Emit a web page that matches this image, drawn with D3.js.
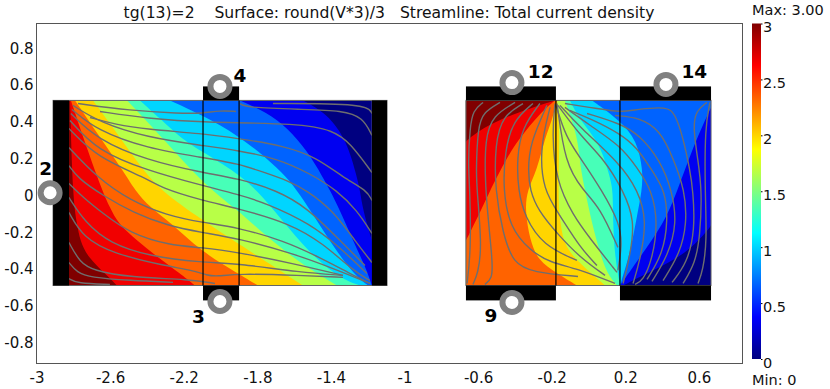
<!DOCTYPE html>
<html>
<head>
<meta charset="utf-8">
<script src="https://cdn.jsdelivr.net/npm/d3@7"></script>
<style>
  html, body { margin: 0; padding: 0; background: #fff; }
  svg { display: block; }
  text { font-family: "DejaVu Sans", sans-serif; fill: #111; }
</style>
</head>
<body>
<svg id="chart" width="830" height="389"></svg>
<script>
// tick labels
const xTicks = [-3, -2.6, -2.2, -1.8, -1.4, -1, -0.6, -0.2, 0.2, 0.6];
const yTicks = [0.8, 0.6, 0.4, 0.2, 0, -0.2, -0.4, -0.6, -0.8];
const barTicks = [0, 0.5, 1, 1.5, 2, 2.5, 3];

// round(V*3)/3 levels and jet colormap
const levels = [0, 0.3333, 0.6667, 1, 1.3333, 1.6667, 2, 2.3333, 2.6667, 3];
const jetStops = [0, 0.375, 1.125, 1.875, 2.625, 3];
const jetColors = ["#000080", "#0000ff", "#00ffff", "#ffff00", "#ff0000", "#800000"];

// band edges, [x, y]. everything left of edge i has at least levels[i + 1]
const leftEdges = [
  [[-1.552, .503], [-1.421, .432], [-1.313, .285], [-1.258, .084], [-1.242, .014], [-1.226, -.095], [-1.177, -.258], [-1.106, -.503]],
  [[-1.894, .503], [-1.747, .438], [-1.639, .356], [-1.530, .231], [-1.443, .084], [-1.405, .014], [-1.351, -.095], [-1.280, -.258], [-1.204, -.421], [-1.177, -.503]],
  [[-2.275, .503], [-2.095, .421], [-1.905, .313], [-1.747, .188], [-1.639, .084], [-1.584, .014], [-1.476, -.149], [-1.372, -.313], [-1.269, -.448], [-1.198, -.503]],
  [[-2.438, .503], [-2.329, .405], [-2.220, .302], [-2.112, .231], [-1.905, .106], [-1.802, .014], [-1.677, -.133], [-1.514, -.329], [-1.351, -.465], [-1.242, -.503]],
  [[-2.508, .503], [-2.302, .285], [-2.101, .057], [-1.905, -.095], [-1.769, -.220], [-1.568, -.383], [-1.367, -.503]],
  [[-2.693, .503], [-2.546, .302], [-2.438, .149], [-2.329, .014], [-2.095, -.149], [-1.905, -.274], [-1.552, -.503]],
  [[-2.791, .503], [-2.655, .302], [-2.530, .122], [-2.465, .014], [-2.383, -.079], [-2.264, -.166], [-2.112, -.313], [-1.905, -.438], [-1.796, -.503]],
  [[-2.813, .503], [-2.747, .302], [-2.644, .014], [-2.601, -.079], [-2.557, -.166], [-2.454, -.258], [-2.340, -.351], [-2.220, -.438], [-2.139, -.503]],
  [[-2.818, .503], [-2.802, -.041], [-2.780, -.166], [-2.764, -.258], [-2.720, -.351], [-2.628, -.438], [-2.563, -.503]]
];
const rightEdges = [
  [[.769, .503], [.688, -.149], [.660, -.188], [.535, -.329], [.351, -.421], [.188, -.503]],
  [[.688, .503], [.649, .432], [.568, .247], [.497, .052], [.427, -.133], [.318, -.296], [.171, -.503]],
  [[.019, .503], [.171, .394], [.264, .285], [.296, .122], [.291, .014], [.264, -.122], [.226, -.329], [.171, -.503]],
  [[-.101, .503], [-.046, .394], [.063, .269], [.117, .084], [.133, .014], [.133, -.166], [.144, -.351], [.171, -.503]],
  [[-.128, .503], [-.057, .302], [-.046, .149], [-.019, .014], [.019, -.166], [.063, -.329], [.101, -.438], [.155, -.503]],
  [[-.171, .503], [-.155, .340], [-.166, .014], [-.155, -.166], [-.128, -.296], [-.046, -.383], [.090, -.503]],
  [[-.171, .503], [-.198, .394], [-.236, .302], [-.280, .122], [-.334, .014], [-.345, -.095], [-.318, -.258], [-.274, -.367], [-.171, -.438], [-.063, -.503]],
  [[-.182, .503], [-.264, .432], [-.372, .302], [-.443, .193], [-.535, .014], [-.660, -.258], [-.807, -.503]],
  [[-.182, .503], [-.389, .438], [-.573, .356], [-.660, .285], [-.698, .258], [-.807, -.503]]
];

// streamlines of total current density, left block
const leftStreams = [
  [[-2.774, .486], [-2.492, .448], [-2.220, .432], [-2.101, .432], [-2.003, .448], [-1.916, .443]],
  [[-2.655, .443], [-2.399, .405], [-2.101, .383], [-1.568, .378], [-1.389, .340], [-1.296, .274], [-1.177, .111]],
  [[-1.894, .486], [-1.867, .465], [-1.568, .454], [-1.334, .448], [-1.226, .410], [-1.177, .313]],
  [[-1.715, .486], [-1.204, .486], [-1.177, .432]],
  [[-2.709, .410], [-2.573, .372], [-2.399, .345], [-2.101, .323], [-1.905, .296], [-1.660, .258], [-1.476, .193], [-1.334, .084], [-1.204, .014], [-1.177, -.041]],
  [[-2.802, .476], [-2.655, .383], [-2.399, .302], [-2.101, .258], [-1.905, .231], [-1.693, .188], [-1.514, .106], [-1.367, .014], [-1.258, -.095], [-1.177, -.220]],
  [[-2.807, .454], [-2.671, .340], [-2.399, .242], [-2.101, .193], [-1.905, .160], [-1.747, .106], [-1.639, .068], [-1.530, .014], [-1.389, -.095], [-1.258, -.274], [-1.177, -.378]],
  [[-2.813, .432], [-2.671, .291], [-2.399, .177], [-2.101, .111], [-1.905, .079], [-1.693, .014], [-1.530, -.079], [-1.351, -.258], [-1.215, -.394]],
  [[-2.818, .394], [-2.671, .231], [-2.399, .122], [-2.101, .041], [-1.905, -.008], [-1.747, -.057], [-1.514, -.166], [-1.351, -.296], [-1.204, -.438]],
  [[-2.824, .351], [-2.671, .193], [-2.399, .079], [-2.329, .030], [-2.101, -.041], [-1.905, -.084], [-1.622, -.166], [-1.443, -.274], [-1.280, -.421], [-1.188, -.476]],
  [[-2.824, .247], [-2.671, .084], [-2.492, -.041], [-2.291, -.122], [-2.101, -.160], [-1.905, -.188], [-1.660, -.258], [-1.459, -.351], [-1.296, -.438], [-1.188, -.492]],
  [[-2.824, .149], [-2.774, .079], [-2.639, -.014], [-2.476, -.106], [-2.291, -.177], [-2.101, -.215], [-1.905, -.247], [-1.606, -.329], [-1.389, -.410], [-1.188, -.492]],
  [[-2.824, .052], [-2.747, -.024], [-2.639, -.111], [-2.492, -.220], [-2.275, -.285], [-2.101, -.296], [-1.905, -.323], [-1.606, -.383], [-1.334, -.448]],
  [[-2.824, -.024], [-2.736, -.160], [-2.601, -.274], [-2.383, -.345], [-2.101, -.378], [-1.905, -.383], [-1.568, -.432], [-1.334, -.448]],
  [[-2.824, -.106], [-2.747, -.242], [-2.584, -.329], [-2.313, -.394], [-2.149, -.421], [-2.073, -.448], [-2.019, -.454], [-1.905, -.438], [-1.568, -.448], [-1.334, -.459]],
  [[-2.824, -.269], [-2.764, -.378], [-2.693, -.421], [-2.492, -.459], [-2.166, -.470], [-2.030, -.492]],
  [[-2.824, -.378], [-2.780, -.432], [-2.709, -.459], [-2.492, -.476], [-2.258, -.486]],
  [[-2.824, -.465], [-2.780, -.492], [-2.601, -.497]]
];

// streamlines, right block
const rightStreams = [
  [[-.573, .492], [-.628, .448], [-.644, .356], [-.655, .160], [-.644, .014], [-.639, -.313], [-.660, -.492]],
  [[-.481, .492], [-.573, .438], [-.601, .356], [-.611, .122], [-.606, .014], [-.579, -.296], [-.601, -.438], [-.628, -.497]],
  [[-.399, .492], [-.519, .421], [-.563, .302], [-.563, .014], [-.519, -.383], [-.524, -.465], [-.563, -.497]],
  [[-.356, .486], [-.465, .421], [-.508, .269], [-.508, .014], [-.465, -.220], [-.410, -.383], [-.302, -.432], [-.057, -.454]],
  [[-.302, .486], [-.410, .394], [-.454, .231], [-.465, .014], [-.427, -.188], [-.318, -.313], [-.209, -.378], [-.063, -.410], [.144, -.492]],
  [[-.264, .486], [-.361, .356], [-.389, .193], [-.383, .014], [-.345, -.133], [-.247, -.285], [-.063, -.367]],
  [[-.226, .476], [-.318, .269], [-.329, .122], [-.318, .014], [-.274, -.095], [-.171, -.220], [-.046, -.351], [.090, -.448]],
  [[-.209, .465], [-.264, .247], [-.247, .014], [-.155, -.122], [-.046, -.296], [.046, -.394]],
  [[-.182, .486], [-.198, .323], [-.177, .068], [-.084, -.122], [.008, -.247], [.155, -.432]],
  [[-.171, .486], [-.128, .160], [-.030, .014], [.063, -.079], [.160, -.296]],
  [[-.128, .486], [.046, .459], [.171, .438], [.264, .454], [.427, .470], [.470, .432], [.514, .302], [.552, .122], [.568, .014], [.579, -.204], [.535, -.383], [.454, -.486]],
  [[.144, .421], [.280, .410], [.389, .340], [.459, .193], [.524, .014], [.535, -.166], [.497, -.329], [.405, -.476]],
  [[-.008, .432], [.171, .378], [.280, .313], [.389, .177], [.454, .014], [.481, -.166], [.432, -.340], [.345, -.481]],
  [[-.101, .448], [.008, .405], [.171, .323], [.264, .247], [.345, .122], [.416, .014], [.432, -.149], [.405, -.329], [.318, -.470]],
  [[-.128, .465], [.008, .367], [.171, .258], [.264, .139], [.345, .014], [.378, -.166], [.345, -.367], [.296, -.476], [.253, -.497]],
  [[-.155, .476], [-.046, .356], [.171, .160], [.269, .014], [.318, -.149], [.280, -.367], [.242, -.492]],
  [[-.166, .476], [-.046, .313], [.090, .177], [.188, .014], [.253, -.149], [.226, -.340], [.188, -.492]],
  [[-.177, .476], [-.122, .302], [-.046, .193], [.073, .014], [.171, -.166], [.182, -.285], [.160, -.421]],
  [[.644, .492], [.584, .448], [.568, .356], [.595, .177], [.617, .014], [.606, -.242], [.579, -.383], [.514, -.492]],
  [[.660, .492], [.633, .356], [.633, .014], [.644, -.258], [.622, -.421], [.595, -.492]]
];

// x0, x1, y0, y1
const leftBlock = [-2.823, -1.177, -.503, .503];
const rightBlock = [-.666, .666, -.503, .503];
const contacts = [
  [-2.910, -2.823, -.503, .503],
  [-1.177, -1.095, -.503, .503],
  [-2.095, -1.899, .503, .579],
  [-2.095, -1.899, -.584, -.503],
  [-.666, -.177, .503, .579],
  [-.666, -.177, -.584, -.503],
  [.171, .666, .503, .579],
  [.171, .666, -.584, -.503]
];
const dividers = [-2.095, -1.899, -.177, .171];

const terminalIds = ["2", "3", "4", "9", "12", "14"];
const terminalX = [-2.926, -2.003, -2.003, -.416, -.416, .421];
const terminalY = [.001, -.590, .579, -.595, .600, .590];
const terminalLabelX = [-2.950, -2.120, -1.895, -.530, -.260, .575];
const terminalLabelY = [.135, -.670, .640, -.665, .660, .660];

const svg = d3.select("#chart");
const plot = { left: 36.5, right: 742.5, top: 23.5, bottom: 363.5 };

const x = d3.scaleLinear().domain([-3, 0.837]).range([plot.left, plot.right]);
const y = d3.scaleLinear().domain([-0.927, 0.921]).range([plot.bottom, plot.top]);
const jet = d3.scaleLinear().domain(jetStops).range(jetColors);

const fontSize = 15;
const barFontSize = 14.5;

// title
svg.append("text")
   .attr("x", 389)
   .attr("y", 17.5)
   .attr("text-anchor", "middle")
   .attr("font-size", 15.6)
   .style("white-space", "pre")
   .text("tg(13)=2    Surface: round(V*3)/3   Streamline: Total current density");

// frame
svg.append("rect")
   .attr("x", plot.left).attr("y", plot.top)
   .attr("width", plot.right - plot.left).attr("height", plot.bottom - plot.top)
   .attr("fill", "#fff").attr("stroke", "#555").attr("stroke-width", 1);

// axes, no tick marks in the original, plain hyphen for the minus
const xAxis = svg.append("g")
   .attr("transform", `translate(0, ${plot.bottom})`)
   .call(d3.axisBottom(x).tickValues(xTicks).tickSize(0).tickFormat(d => String(d)));
xAxis.attr("font-family", null);
xAxis.select(".domain").remove();
xAxis.selectAll("text").attr("font-size", fontSize).attr("y", 9);

const yAxis = svg.append("g")
   .attr("transform", `translate(${plot.left}, 0)`)
   .call(d3.axisLeft(y).tickValues(yTicks).tickSize(0).tickFormat(d => String(d)));
yAxis.attr("font-family", null);
yAxis.select(".domain").remove();
yAxis.selectAll("text").attr("font-size", fontSize).attr("x", -3).attr("y", 2.5);

const defs = svg.append("defs");

function drawBlock(name, block, edges, streams) {
  defs.append("clipPath").attr("id", "clip-" + name)
      .append("rect")
      .attr("x", x(block[0])).attr("y", y(block[3]))
      .attr("width", x(block[1]) - x(block[0]))
      .attr("height", y(block[2]) - y(block[3]));

  const g = svg.append("g").attr("clip-path", `url(#clip-${name})`);

  g.append("rect")
     .attr("x", x(block[0])).attr("y", y(block[3]))
     .attr("width", x(block[1]) - x(block[0]))
     .attr("height", y(block[2]) - y(block[3]))
     .attr("fill", jet(levels[0]));

  const band = d3.area()
     .curve(d3.curveBasis)
     .y(d => y(d[1]))
     .x0(x(block[0]) - 40)
     .x1(d => x(d[0]));

  g.selectAll(".band")
   .data(edges)
   .enter().append("path")
   .attr("class", "band")
   .attr("d", band)
   .attr("fill", (d, i) => jet(levels[i + 1]));

  const line = d3.line()
     .curve(d3.curveBasis)
     .x(d => x(d[0]))
     .y(d => y(d[1]));

  g.selectAll(".stream")
   .data(streams)
   .enter().append("path")
   .attr("class", "stream")
   .attr("d", line)
   .attr("fill", "none")
   .attr("stroke", "#6e6e6e")
   .attr("stroke-width", 1.4);
}

drawBlock("left", leftBlock, leftEdges, leftStreams);
drawBlock("right", rightBlock, rightEdges, rightStreams);

// block outlines
svg.selectAll(".outline")
   .data([[-2.910, -1.095, -.503, .503], [-.666, .666, -.503, .503]])
   .enter().append("rect")
   .attr("class", "outline")
   .attr("x", d => x(d[0])).attr("y", d => y(d[3]))
   .attr("width", d => x(d[1]) - x(d[0]))
   .attr("height", d => y(d[2]) - y(d[3]))
   .attr("fill", "none")
   .attr("stroke", "#666");

// black contacts
svg.selectAll(".contact")
   .data(contacts)
   .enter().append("rect")
   .attr("class", "contact")
   .attr("x", d => x(d[0])).attr("y", d => y(d[3]))
   .attr("width", d => x(d[1]) - x(d[0]))
   .attr("height", d => y(d[2]) - y(d[3]))
   .attr("fill", "#000");

svg.selectAll(".divider")
   .data(dividers)
   .enter().append("line")
   .attr("class", "divider")
   .attr("x1", d => x(d)).attr("x2", d => x(d))
   .attr("y1", y(.503)).attr("y2", y(-.503))
   .attr("stroke", "#000")
   .attr("stroke-width", 1.2);

// terminal rings
svg.selectAll(".ring")
   .data(terminalIds)
   .enter().append("circle")
   .attr("class", "ring")
   .attr("cx", (d, i) => x(terminalX[i]))
   .attr("cy", (d, i) => y(terminalY[i]))
   .attr("r", 9.5)
   .attr("fill", "#fff")
   .attr("stroke", "#808080")
   .attr("stroke-width", 6);

svg.selectAll(".termlabel")
   .data(terminalIds)
   .enter().append("text")
   .attr("class", "termlabel")
   .attr("x", (d, i) => x(terminalLabelX[i]))
   .attr("y", (d, i) => y(terminalLabelY[i]))
   .attr("text-anchor", "middle")
   .attr("dy", "0.36em")
   .attr("font-size", 18.5)
   .attr("font-weight", "bold")
   .style("fill", "#000")
   .text(d => d);

// colorbar
const bar = { x: 752, w: 9, top: 23.5, bottom: 359 };
const barY = d3.scaleLinear().domain([0, 3]).range([bar.bottom, bar.top]);

const grad = defs.append("linearGradient")
   .attr("id", "jet")
   .attr("x1", 0).attr("y1", 1).attr("x2", 0).attr("y2", 0);
grad.selectAll("stop")
   .data(jetStops)
   .enter().append("stop")
   .attr("offset", d => d / 3)
   .attr("stop-color", d => jet(d));

svg.append("rect")
   .attr("x", bar.x).attr("y", bar.top)
   .attr("width", bar.w).attr("height", bar.bottom - bar.top)
   .attr("fill", "url(#jet)");

const barAxis = svg.append("g")
   .attr("transform", `translate(${bar.x + bar.w}, 0)`)
   .call(d3.axisRight(barY).tickValues(barTicks).tickSize(1.5).tickFormat(d => String(d)));
barAxis.attr("font-family", null);
barAxis.select(".domain").remove();
barAxis.selectAll("text").attr("font-size", barFontSize).attr("x", 2).attr("y", 3.5);

svg.append("text").attr("x", 752).attr("y", 14.8).attr("font-size", barFontSize).text("Max: 3.00");
svg.append("text").attr("x", 752).attr("y", 384.5).attr("font-size", barFontSize).text("Min: 0");
</script>
</body>
</html>
